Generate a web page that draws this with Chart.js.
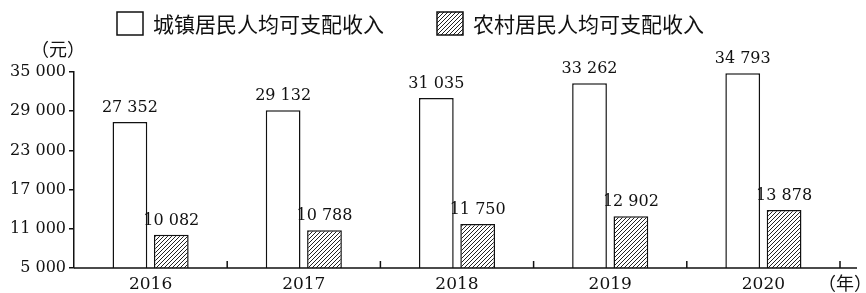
<!DOCTYPE html>
<html><head><meta charset="utf-8">
<script src="https://cdn.jsdelivr.net/npm/chart.js@4"></script>
<style>html,body{margin:0;padding:0;background:#fff;}#wrap{width:866px;height:293px;position:relative;}</style>
</head><body><div id="wrap"><canvas id="c"></canvas></div>
<script>
const years = ['2016', '2017', '2018', '2019', '2020'];
const urbanIncome = [27352, 29132, 31035, 33262, 34793];
const ruralIncome = [10082, 10788, 11750, 12902, 13878];
const yTicks = [5000, 11000, 17000, 23000, 29000, 35000];
const seriesNames = ['城镇居民人均可支配收入', '农村居民人均可支配收入'];
const yUnit = '（元）';
const xUnit = '（年）';

const INK = '#111';
const NUM_FONT = '"DejaVu Serif", "Liberation Serif", serif';
const CJK_FONT = '"Noto Sans CJK SC", sans-serif';

function fmt(v) { return String(v).replace(/\B(?=(\d{3})+(?!\d))/g, ' '); }

function hatch() {
  const t = document.createElement('canvas');
  t.width = 4; t.height = 4;
  const g = t.getContext('2d');
  g.fillStyle = '#fff'; g.fillRect(0, 0, 4, 4);
  g.strokeStyle = '#222'; g.lineWidth = 1;
  g.beginPath();
  g.moveTo(-1, 5); g.lineTo(5, -1);
  g.moveTo(-1, 1); g.lineTo(1, -1);
  g.moveTo(3, 5); g.lineTo(5, 3);
  g.stroke();
  return g.createPattern(t, 'repeat');
}
const hatchFill = hatch();

const extras = {
  id: 'extras',
  afterDraw(chart) {
    const ctx = chart.ctx, xs = chart.scales.x, ys = chart.scales.y, a = chart.chartArea;
    ctx.save();
    const base = ys.getPixelForValue(ys.min);
    // x axis line with extension and inner ticks between categories
    ctx.strokeStyle = INK; ctx.lineWidth = 1.5;
    ctx.beginPath();
    ctx.moveTo(a.left, base); ctx.lineTo(a.right + 17, base);
    const step = xs.getPixelForValue(1) - xs.getPixelForValue(0);
    for (let i = 0; i < years.length; i++) {
      const bx = xs.getPixelForValue(i) + step / 2;
      ctx.moveTo(bx, base); ctx.lineTo(bx, base - 7);
    }
    ctx.stroke();
    // data labels
    ctx.fillStyle = INK;
    ctx.font = '16px ' + NUM_FONT;
    ctx.textAlign = 'center'; ctx.textBaseline = 'alphabetic';
    chart.data.datasets.forEach((ds, di) => {
      chart.getDatasetMeta(di).data.forEach((bar, j) => {
        ctx.fillText(fmt(ds.data[j]), bar.x, bar.y - 10);
      });
    });
    // units
    ctx.font = '18px ' + CJK_FONT;
    ctx.textAlign = 'center'; ctx.textBaseline = 'middle';
    ctx.fillText(yUnit, 58, 49);
    ctx.fillText(xUnit, 845, 283);
    // legend
    const items = [[117, chart.data.datasets[0]], [437, chart.data.datasets[1]]];
    ctx.font = '21px ' + CJK_FONT;
    ctx.textAlign = 'left';
    items.forEach(([lx, ds]) => {
      ctx.fillStyle = ds.backgroundColor;
      ctx.fillRect(lx, 12, 26, 23);
      ctx.strokeStyle = INK; ctx.lineWidth = 1.5;
      ctx.strokeRect(lx, 12, 26, 23);
      ctx.fillStyle = INK;
      ctx.fillText(ds.label, lx + 36, 24);
    });
    ctx.restore();
  }
};

new Chart(document.getElementById('c'), {
  type: 'bar',
  data: {
    labels: years,
    datasets: [
      { label: seriesNames[0], data: urbanIncome, backgroundColor: '#fff', borderColor: INK, borderWidth: 1.5 },
      { label: seriesNames[1], data: ruralIncome, backgroundColor: hatchFill, borderColor: INK, borderWidth: 1.5 }
    ]
  },
  options: {
    responsive: true, maintainAspectRatio: false, animation: false, devicePixelRatio: 1,
    layout: { padding: { top: 72, right: 26, left: 0, bottom: 0 } },
    datasets: { bar: { categoryPercentage: 0.54, barPercentage: 0.84 } },
    plugins: { legend: { display: false }, tooltip: { enabled: false } },
    scales: {
      x: {
        grid: { display: false },
        border: { display: false },
        ticks: { color: INK, font: { family: NUM_FONT, size: 17, lineHeight: 1 }, padding: 0 },
        afterFit(s) { s.height = 25; }
      },
      y: {
        min: 5000, max: 35000,
        afterBuildTicks(s) { s.ticks = yTicks.map(v => ({ value: v })); },
        grid: { display: true, drawOnChartArea: false, tickLength: 5, color: INK, lineWidth: 1.5 },
        border: { display: true, color: INK, width: 1.5 },
        ticks: { color: INK, font: { family: NUM_FONT, size: 16 }, padding: 3, callback: v => fmt(v) },
        afterFit(s) { s.width = 74; }
      }
    }
  },
  plugins: [extras]
});
</script></body></html>
